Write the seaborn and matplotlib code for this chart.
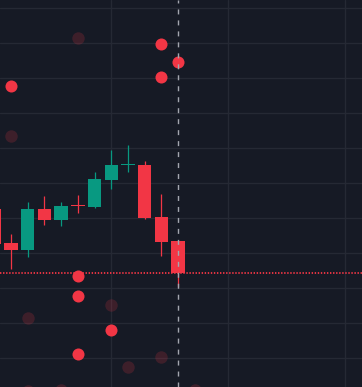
import matplotlib
matplotlib.use("Agg")
import matplotlib.pyplot as plt
import seaborn as sns
import numpy as np
import pandas as pd

# ---- data (price units) ----
candle_idx = [0, 1, 2, 3, 4, 5, 6, 7, 8, 9, 10, 11]
opens  = [52.66, 42.94, 41.03, 52.66, 49.51, 53.43, 53.23, 60.94, 65.23, 65.23, 50.37, 43.51]
closes = [42.74, 41.03, 52.66, 49.51, 53.51, 53.40, 61.23, 65.23, 65.25, 50.09, 43.23, 34.29]
highs  = [53.50, 45.51, 54.66, 56.37, 54.66, 56.66, 63.23, 69.51, 70.94, 66.37, 56.94, 43.51]
lows   = [41.50, 35.60, 39.03, 48.09, 47.80, 51.51, 52.94, 58.37, 63.23, 49.80, 39.23, 30.37]

strong_x = [1, 10, 10, 11, 5, 5, 7, 5]
strong_y = [87.8, 99.8, 90.46, 94.74, 33.43, 27.71, 18.0, 11.23]

faint_x = [5, 1, 7, 2, 10, 8, 2, 4, 12, 5]
faint_y = [101.5, 73.5, 25.31, 21.51, 10.23, 7.51, 0.66, 0.94, 0.94, 0.2]

cursor_idx = 11
last_price = closes[-1]

# ---- style ----
BG = "#161A25"
GRID = "#252934"
UP = "#089981"
DOWN = "#F23645"

sns.set_theme(style="dark", rc={"axes.facecolor": BG, "figure.facecolor": BG})
plt.rcParams["lines.scale_dashes"] = False

fig = plt.figure(figsize=(3.62, 3.87), dpi=100)
ax = fig.add_axes([0, 0, 1, 1])
ax.set_facecolor(BG)

# grid
for gx in [0, 7, 14, 21]:
    ax.axvline(gx, color=GRID, lw=1.0, zorder=0)
for gy in range(0, 120, 10):
    ax.axhline(gy, color=GRID, lw=1.0, zorder=0)

# last price line
ax.axhline(last_price, color=DOWN, lw=1.3, linestyle=(0, (1.0, 1.2)), zorder=1)

# scatter dots
dots_s = pd.DataFrame({"x": strong_x, "y": strong_y})
dots_f = pd.DataFrame({"x": faint_x, "y": faint_y})
sns.scatterplot(data=dots_f, x="x", y="y", ax=ax, color=DOWN, alpha=0.18,
                s=80, linewidth=0, zorder=2, legend=False)
sns.scatterplot(data=dots_s, x="x", y="y", ax=ax, color=DOWN, alpha=1.0,
                s=75, linewidth=0, zorder=4, legend=False)

# candles
df = pd.DataFrame({"i": candle_idx, "o": opens, "c": closes, "h": highs, "l": lows})
df["col"] = [UP if c > o or (abs(c - o) < 0.05 and k == 8) else DOWN
             for k, (o, c) in enumerate(zip(opens, closes))]
ax.vlines(df["i"], df["l"], df["h"], colors=df["col"], lw=0.9, zorder=3)
bottoms = np.minimum(df["o"], df["c"])
heights = np.maximum(np.abs(df["c"] - df["o"]), 0.4)
ax.bar(df["i"], heights, bottom=bottoms, width=0.8, color=df["col"],
       linewidth=0, zorder=3)

# crosshair vertical dashed line
ax.axvline(cursor_idx, color="#A3A6AF", lw=1.0, linestyle=(0, (3.6, 4.3)), zorder=5)

ax.set_xlim(0.34, 0.34 + 362 / 16.7)
ax.set_ylim(1.8, 112.37)
ax.set_xticks([])
ax.set_yticks([])
ax.set_xlabel("")
ax.set_ylabel("")
for sp in ax.spines.values():
    sp.set_visible(False)

fig.savefig("out.png", dpi=100, facecolor=BG)
